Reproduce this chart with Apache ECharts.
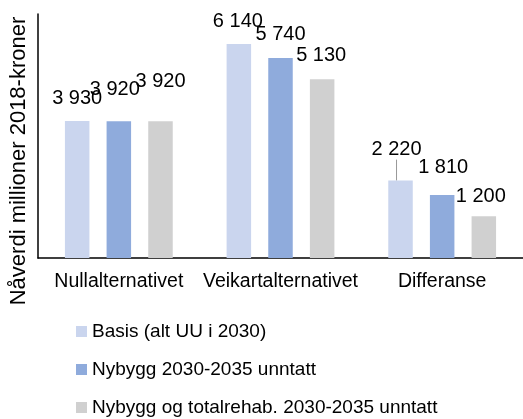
<!DOCTYPE html>
<html>
<head>
<meta charset="utf-8">
<script src="https://cdn.jsdelivr.net/npm/echarts@6/dist/echarts.min.js"></script>
<style>
html,body{margin:0;padding:0;background:#fff;}
#chart{width:523px;height:419px;}
</style>
</head>
<body>
<div id="chart"></div>
<script>
const categories = ['Nullalternativet', 'Veikartalternativet', 'Differanse'];
const seriesNames = ['Basis (alt UU i 2030)', 'Nybygg 2030-2035 unntatt', 'Nybygg og totalrehab. 2030-2035 unntatt'];
const basis = [3930, 6140, 2220];
const nybygg = [3920, 5740, 1810];
const nybyggTotal = [3920, 5130, 1200];
const yAxisTitle = 'Nåverdi millioner 2018-kroner';

const colors = ['#CAD5EE', '#8FABDC', '#D0D0D0'];
const FONT = '"Liberation Sans", Arial, sans-serif';
// label nudges [dx, dy] per series / category (label placement only)
const labelNudge = [
  [[0, 0], [-1, 1], [-4, -8]],
  [[-4, -9], [0, 0], [1, -4]],
  [[0, -17], [-1, -1], [-3, 3]]
];
const fmt = v => String(v).replace(/\B(?=(\d{3})+(?!\d))/g, ' ');

const allSeries = [basis, nybygg, nybyggTotal];
const chart = echarts.init(document.getElementById('chart'), null, {renderer: 'canvas'});
chart.setOption({
  animation: false,
  textStyle: {fontFamily: FONT},
  grid: {left: 36, right: 0, top: 14, bottom: 161, containLabel: false},
  legend: {
    orient: 'vertical', left: 76, top: 322, height: 110, padding: 0,
    itemWidth: 11, itemHeight: 11, itemGap: 19,
    icon: 'rect',
    textStyle: {fontFamily: FONT, fontSize: 19, color: '#000'},
    data: seriesNames
  },
  xAxis: {
    type: 'category', data: categories,
    axisLine: {lineStyle: {color: '#000', width: 1.5}},
    axisTick: {show: false},
    axisLabel: {fontFamily: FONT, fontSize: 19.5, color: '#000', margin: 14, interval: 0}
  },
  yAxis: {
    type: 'value', min: 0, max: 7000,
    name: yAxisTitle, nameLocation: 'middle', nameGap: 8,
    nameTextStyle: {fontFamily: FONT, fontSize: 22, color: '#000', padding: [0, 50, 0, 0]},
    axisLine: {show: true, lineStyle: {color: '#000', width: 1.5}},
    axisTick: {show: false},
    axisLabel: {show: false},
    splitLine: {show: false}
  },
  series: allSeries.map((vals, si) => ({
    type: 'bar', name: seriesNames[si],
    barWidth: 24.5, barGap: '70%',
    itemStyle: {color: colors[si]},
    label: {show: true, position: 'top', distance: 13, fontFamily: FONT, fontSize: 20, color: '#000',
      formatter: p => fmt(p.value)},
    labelLine: {show: si === 0, lineStyle: {color: '#999', width: 1}},
    labelLayout: p => ({dx: labelNudge[si][p.dataIndex][0], dy: labelNudge[si][p.dataIndex][1]}),
    data: vals.map((v, ci) => (si === 0 && ci !== 2) ? {value: v, labelLine: {show: false}} : v)
  }))
});
</script>
</body>
</html>
